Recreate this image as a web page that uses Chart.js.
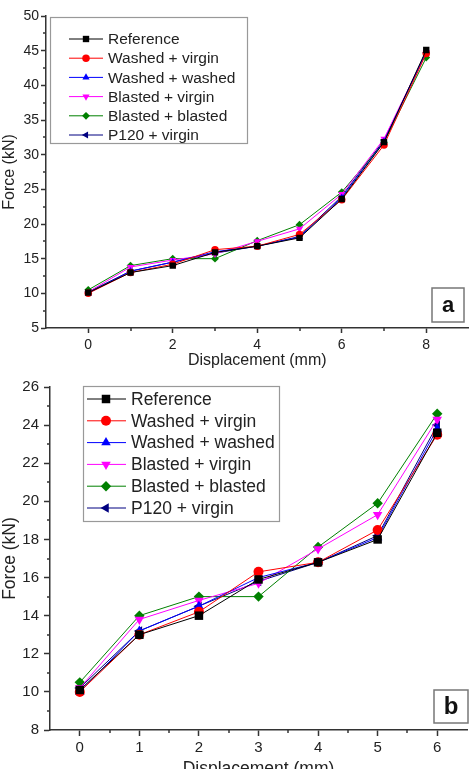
<!DOCTYPE html>
<html>
<head>
<meta charset="utf-8">
<script src="https://cdn.jsdelivr.net/npm/chart.js@4"></script>
<style>
  html, body { margin: 0; padding: 0; background: #fff; overflow: hidden; }
  body { width: 473px; height: 769px; position: relative; }
  #wrap-a { position: absolute; left: 0; top: 0; width: 473px; height: 380px; }
  #wrap-b { position: absolute; left: 0; top: 380px; width: 473px; height: 400px; }
</style>
</head>
<body>
<div id="wrap-a"><canvas id="chart-a"></canvas></div>
<div id="wrap-b"><canvas id="chart-b"></canvas></div>
<script>
// ─── DATA ───────────────────────────────────────────
const DISP_A = [0, 1, 2, 3, 4, 5, 6, 7, 8];
const DISP_B = [0, 1, 2, 3, 4, 5, 6];

const REFERENCE        = [10.1, 13.0, 14.0, 15.9, 16.8, 18.0, 23.6, 31.8, 45.1];
const WASHED_VIRGIN    = [10.0, 13.0, 14.2, 16.3, 16.8, 18.5, 23.5, 31.4, 44.6];
const WASHED_WASHED    = [10.0, 13.2, 14.5, 16.0, 16.8, 18.1, 23.8, 31.9, 44.9];
const BLASTED_VIRGIN   = [10.2, 13.8, 14.8, 15.7, 17.5, 19.3, 24.3, 32.3, 44.8];
const BLASTED_BLASTED  = [10.5, 14.0, 15.0, 15.0, 17.6, 19.9, 24.6, 31.8, 44.0];
const P120_VIRGIN      = [10.2, 13.2, 14.5, 15.8, 16.8, 18.2, 24.0, 32.1, 44.7];

const SERIES_NAMES = ['Reference', 'Washed + virgin', 'Washed + washed', 'Blasted + virgin', 'Blasted + blasted', 'P120 + virgin'];
const SERIES_VALUES = [REFERENCE, WASHED_VIRGIN, WASHED_WASHED, BLASTED_VIRGIN, BLASTED_BLASTED, P120_VIRGIN];

const X_TICKS_A = [0, 2, 4, 6, 8];
const Y_TICKS_A = [5, 10, 15, 20, 25, 30, 35, 40, 45, 50];
const X_TICKS_B = [0, 1, 2, 3, 4, 5, 6];
const Y_TICKS_B = [8, 10, 12, 14, 16, 18, 20, 22, 24, 26];

// ─── STYLE ──────────────────────────────────────────
const SERIES_COLORS = ['#000000', '#ff0000', '#0000ff', '#ff00ff', '#008000', '#000080'];
const SERIES_MARKS  = ['rect', 'circle', 'triangle', 'triangle', 'rectRot', 'triangle'];
const SERIES_ROT    = [0, 0, 0, 180, 0, 270];
const SERIES_SIZE   = [6, 5, 5.5, 5.5, 5.2, 5.5];

const FONT = '"Liberation Sans", Arial, sans-serif';
Chart.defaults.font.family = FONT;
Chart.defaults.color = '#222';

function makeDatasets(xs, scale) {
  return SERIES_NAMES.map((name, i) => ({
    label: name,
    data: xs.map((x, j) => ({ x, y: SERIES_VALUES[i][j] })),
    borderColor: SERIES_COLORS[i],
    backgroundColor: SERIES_COLORS[i],
    pointBackgroundColor: SERIES_COLORS[i],
    pointBorderColor: SERIES_COLORS[i],
    pointBorderWidth: 0,
    borderWidth: 1,
    pointStyle: SERIES_MARKS[i],
    pointRotation: SERIES_ROT[i],
    pointRadius: SERIES_SIZE[i] * scale,
    tension: 0,
  }));
}

// ─── PLUGINS ────────────────────────────────────────
// small unlabelled ticks halfway between the major ones
const minorTicks = {
  id: 'minorTicks',
  afterDraw(chart, args, o) {
    const { ctx, chartArea } = chart;
    ctx.save();
    ctx.strokeStyle = '#333';
    ctx.lineWidth = 1.5;
    ['x', 'y'].forEach(id => {
      const s = chart.scales[id];
      const t = s.ticks.map(k => k.value);
      for (let i = 0; i < t.length - 1; i++) {
        const mid = (t[i] + t[i + 1]) / 2;
        ctx.beginPath();
        if (id === 'x') {
          const px = Math.round(s.getPixelForValue(mid));
          ctx.moveTo(px, chartArea.bottom);
          ctx.lineTo(px, chartArea.bottom + o.len);
        } else {
          const py = Math.round(s.getPixelForValue(mid));
          ctx.moveTo(chartArea.left - o.len, py);
          ctx.lineTo(chartArea.left, py);
        }
        ctx.stroke();
      }
    });
    ctx.restore();
  }
};

// Origin-style legend box and panel letter
const boxLegend = {
  id: 'boxLegend',
  afterDraw(chart, args, o) {
    const ctx = chart.ctx;
    ctx.save();
    const [bx, by, bw, bh] = o.box;
    ctx.fillStyle = '#fff';
    ctx.fillRect(bx, by, bw, bh);
    ctx.strokeStyle = '#999';
    ctx.lineWidth = 1.2;
    ctx.strokeRect(bx + 0.5, by + 0.5, bw, bh);
    ctx.font = o.fontSize + 'px ' + FONT;
    ctx.textBaseline = 'middle';
    chart.data.datasets.forEach((ds, i) => {
      const y = o.rowY + i * o.rowStep;
      ctx.strokeStyle = ds.borderColor;
      ctx.lineWidth = 1;
      ctx.beginPath();
      ctx.moveTo(o.lineX[0], y);
      ctx.lineTo(o.lineX[1], y);
      ctx.stroke();
      ctx.fillStyle = ds.pointBackgroundColor;
      Chart.helpers.drawPoint(ctx, {
        pointStyle: ds.pointStyle, rotation: ds.pointRotation,
        radius: ds.pointRadius, borderWidth: 0
      }, o.markX, y);
      ctx.fillStyle = '#222';
      ctx.fillText(ds.label, o.textX, y + 1);
    });

    const [tx, ty, tw, th] = o.tag.box;
    ctx.strokeStyle = '#777';
    ctx.lineWidth = 1.5;
    ctx.strokeRect(tx, ty, tw, th);
    ctx.fillStyle = '#111';
    ctx.font = 'bold ' + o.tag.size + 'px ' + FONT;
    ctx.textAlign = 'center';
    ctx.fillText(o.tag.text, tx + tw / 2, ty + th / 2 + 1);
    ctx.restore();
  }
};

// ─── CHARTS ─────────────────────────────────────────
function axis(ticksList, min, max, tickLen, fontSize, pad, title, titleSize, titlePad, fit) {
  return {
    type: 'linear',
    min, max,
    afterBuildTicks: s => { s.ticks = ticksList.map(v => ({ value: v })); },
    afterFit: fit,
    grid: { display: true, drawOnChartArea: false, drawTicks: true, tickLength: tickLen, tickColor: '#333', tickWidth: 1.5 },
    border: { display: true, color: '#333', width: 1.5 },
    ticks: { font: { size: fontSize }, padding: pad, color: '#222', autoSkip: false, maxRotation: 0 },
    title: { display: true, text: title, color: '#222', font: { size: titleSize }, padding: titlePad },
  };
}

function initChart(canvasId, cfg) {
  return new Chart(document.getElementById(canvasId), {
    type: 'line',
    data: { datasets: makeDatasets(cfg.xs, cfg.markScale) },
    options: {
      responsive: true,
      maintainAspectRatio: false,
      animation: false,
      layout: { padding: cfg.padding },
      plugins: {
        legend: { display: false },
        tooltip: { enabled: false },
        minorTicks: { len: 3 },
        boxLegend: cfg.legend,
      },
      scales: {
        x: cfg.x,
        y: cfg.y,
      }
    },
    plugins: [minorTicks, boxLegend]
  });
}

initChart('chart-a', {
  xs: DISP_A,
  markScale: 0.75,
  padding: { left: 0, right: 3, top: 16, bottom: 0 },
  x: axis(X_TICKS_A, -1, 9, 5, 14, 4, 'Displacement (mm)', 16, { top: 0, bottom: 10 },
    s => { s.height = 52; s.paddingLeft = 0; s.paddingRight = 0; }),
  y: axis(Y_TICKS_A, 5, 50, 5, 14, 2, 'Force (kN)', 16, { top: 0, bottom: 0 },
    s => { s.width = 46; s.paddingTop = 0; s.paddingBottom = 0; }),
  legend: {
    box: [50, 17, 197, 126],
    fontSize: 15.5,
    rowY: 39, rowStep: 19.2,
    lineX: [69, 103], markX: 86, textX: 108,
    tag: { text: 'a', box: [432, 288, 32, 34], size: 22 },
  },
});

initChart('chart-b', {
  xs: DISP_B,
  markScale: 1,
  padding: { left: 0, right: 1, top: 7, bottom: 0 },
  x: axis(X_TICKS_B, -0.5, 6.5, 6, 15, 3, 'Displacement (mm)', 17.5, { top: 0, bottom: 0 },
    s => { s.height = 50; s.paddingLeft = 0; s.paddingRight = 0; }),
  y: axis(Y_TICKS_B, 8, 26, 6, 15, 5, 'Force (kN)', 17.5, { top: 0, bottom: 0 },
    s => { s.width = 50; s.paddingTop = 0; s.paddingBottom = 0; }),
  legend: {
    box: [83, 6, 196, 135],
    fontSize: 17.5,
    rowY: 19, rowStep: 21.8,
    lineX: [87, 126], markX: 106, textX: 131,
    tag: { text: 'b', box: [434, 310, 34, 33], size: 24 },
  },
});
</script>
</body>
</html>
